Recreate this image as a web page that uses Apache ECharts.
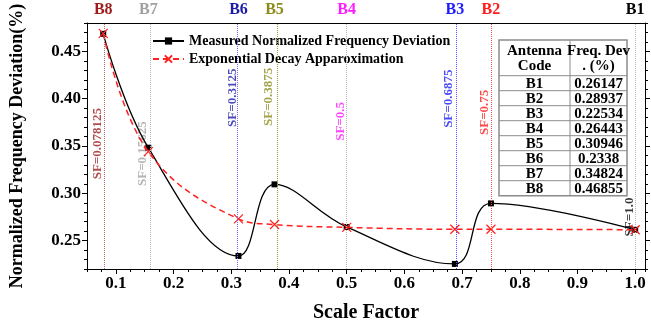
<!DOCTYPE html>
<html style="height: 100%">
<head>
<meta charset="utf-8">
<script src="https://cdn.jsdelivr.net/npm/echarts@6/dist/echarts.min.js"></script>
</head>
<body style="height: 100%; margin: 0; background: #fff">
<div id="container" style="width: 651px; height: 328px"></div>
<script type="text/javascript">
// antennas, ordered by scale factor
var codes = ['B8', 'B7', 'B6', 'B5', 'B4', 'B3', 'B2', 'B1'];
var scaleFactors = [0.078125, 0.15625, 0.3125, 0.375, 0.5, 0.6875, 0.75, 1.0];
var sfLabels = ['SF=0.078125', 'SF=0.15625', 'SF=0.3125', 'SF=0.3875', 'SF=0.5', 'SF=0.6875', 'SF=0.75', 'SF=1.0'];
var measured = [0.46855, 0.34824, 0.2338, 0.30946, 0.26443, 0.22534, 0.28937, 0.26147];
var expFit = [0.469, 0.344, 0.273, 0.267, 0.264, 0.262, 0.262, 0.2615];

// table in the corner
var tableCodes = ['B1', 'B2', 'B3', 'B4', 'B5', 'B6', 'B7', 'B8'];
var tableValues = ['0.26147', '0.28937', '0.22534', '0.26443', '0.30946', '0.2338', '0.34824', '0.46855'];

var xTicks = [0.1, 0.2, 0.3, 0.4, 0.5, 0.6, 0.7, 0.8, 0.9, 1.0];
var yTicks = [0.25, 0.30, 0.35, 0.40, 0.45];

// styling
var codeColors = ['#9c1c1c', '#a0a0a0', '#1c1ca8', '#8c8c1c', '#ff1cff', '#1c1cff', '#ff1c1c', '#000000'];
var lineColors = ['#c86464', '#b4b4b4', '#7070ff', '#a0a040', '#b4b4b4', '#5050ff', '#ff5050', '#b4b4b4'];
var labelAt = [0.3525, 0.342, 0.401, 0.402, 0.376, 0.400, 0.3856, 0.275];

var FONT = 'Liberation Serif';
var XMIN = 0.05, XMAX = 1.017, YMIN = 0.22, YMAX = 0.48;

var dom = document.getElementById('container');
var myChart = echarts.init(dom, null, { renderer: 'canvas' });

var rich = {};
codes.forEach(function (c, i) {
    rich[c] = { color: codeColors[i], fontFamily: FONT, fontWeight: 'bold', fontSize: 16 };
});

// table graphic
var TW = 128, COL = 71, HEAD = 35.7, ROW = 15;
var tbl = [
    { type: 'rect', shape: { x: 0, y: 0, width: TW, height: HEAD + ROW * 8 },
      style: { fill: '#fff', stroke: '#8c8c8c', lineWidth: 1.5 } },
    { type: 'line', shape: { x1: COL, y1: 0, x2: COL, y2: HEAD + ROW * 8 },
      style: { stroke: '#8c8c8c', lineWidth: 1 } }
];
for (var k = 0; k < 8; k++) {
    tbl.push({ type: 'line', shape: { x1: 0, y1: HEAD + ROW * k, x2: TW, y2: HEAD + ROW * k },
        style: { stroke: '#8c8c8c', lineWidth: 1 } });
}
function cell(txt, x, y) {
    return { type: 'text', x: x, y: y,
        style: { text: txt, fill: '#000', font: 'bold 15px "' + FONT + '"', align: 'center', verticalAlign: 'middle' } };
}
tbl.push(cell('Antenna', COL / 2, 11.5), cell('Code', COL / 2, 26.5));
tbl.push(cell('Freq. Dev', (COL + TW) / 2, 11.5), cell('. (%)', (COL + TW) / 2, 26.5));
tableCodes.forEach(function (c, i) {
    var y = HEAD + ROW * i + ROW / 2 + 0.5;
    tbl.push(cell(c, COL / 2, y), cell(tableValues[i], (COL + TW) / 2, y));
});

var boldText = { fontFamily: FONT, fontWeight: 'bold', color: '#000' };

var option = {
    animation: false,
    grid: { left: 84, right: 6, top: 23, bottom: 55 },
    legend: {
        orient: 'vertical',
        left: 150, top: 28,
        padding: [6, 8, 2, 2],
        itemWidth: 31, itemHeight: 9, itemGap: 4,
        backgroundColor: '#fff',
        textStyle: { fontFamily: FONT, fontWeight: 'bold', fontSize: 14, color: '#000' },
        data: ['Measured Normalized Frequency Deviation', 'Exponential Decay Apparoximation']
    },
    xAxis: [{
        type: 'value', position: 'bottom', min: XMIN, max: XMAX,
        axisLine: { lineStyle: { color: '#000', width: 1 } },
        axisTick: { customValues: xTicks, length: 5, lineStyle: { color: '#000' } },
        axisLabel: Object.assign({ customValues: xTicks, fontSize: 17, margin: 6,
            formatter: function (v) { return v.toFixed(1); } }, boldText),
        splitLine: { show: false },
        name: 'Scale Factor', nameLocation: 'middle', nameGap: 34,
        nameTextStyle: Object.assign({ fontSize: 20 }, boldText)
    }, {
        type: 'value', position: 'bottom', min: XMIN, max: XMAX, interval: 0.025,
        axisLine: { show: false },
        axisTick: { length: 3, lineStyle: { color: '#000' } },
        axisLabel: { show: false }, splitLine: { show: false }
    }, {
        type: 'value', position: 'top', min: XMIN, max: XMAX,
        axisLine: { lineStyle: { color: '#000', width: 1 } },
        axisTick: { show: false },
        axisLabel: {
            customValues: scaleFactors, margin: 5, rich: rich,
            formatter: function (v) {
                var best = 0;
                scaleFactors.forEach(function (s, i) {
                    if (Math.abs(s - v) < Math.abs(scaleFactors[best] - v)) best = i;
                });
                return '{' + codes[best] + '|' + codes[best] + '}';
            }
        },
        splitLine: { show: false }
    }],
    yAxis: [{
        type: 'value', position: 'left', min: YMIN, max: YMAX,
        axisLine: { show: true, lineStyle: { color: '#000', width: 1 } },
        axisTick: { show: true, customValues: yTicks, length: 5, lineStyle: { color: '#000' } },
        axisLabel: Object.assign({ customValues: yTicks, fontSize: 17, margin: 6,
            formatter: function (v) { return v.toFixed(2); } }, boldText),
        splitLine: { show: false },
        name: 'Normalized Frequency Deviation(%)', nameLocation: 'middle', nameGap: 61,
        nameTextStyle: Object.assign({ fontSize: 18 }, boldText)
    }, {
        type: 'value', position: 'left', min: YMIN, max: YMAX, interval: 0.01,
        axisLine: { show: false },
        axisTick: { show: true, length: 3, lineStyle: { color: '#000' } },
        axisLabel: { show: false }, splitLine: { show: false }
    }, {
        type: 'value', position: 'right', min: YMIN, max: YMAX,
        axisLine: { show: true, lineStyle: { color: '#000', width: 1 } },
        axisTick: { show: true, customValues: yTicks, length: 5, lineStyle: { color: '#000' } },
        axisLabel: { show: false }, splitLine: { show: false }
    }, {
        type: 'value', position: 'right', min: YMIN, max: YMAX, interval: 0.01,
        axisLine: { show: false },
        axisTick: { show: true, length: 3, lineStyle: { color: '#000' } },
        axisLabel: { show: false }, splitLine: { show: false }
    }],
    series: [{
        // SF marker lines and their rotated labels
        type: 'scatter', xAxisIndex: 0, yAxisIndex: 0, z: 1,
        symbolSize: 1, itemStyle: { color: 'transparent' }, silent: true,
        data: scaleFactors.map(function (sf, i) {
            return {
                value: [sf, labelAt[i]],
                label: {
                    show: true, formatter: sfLabels[i], rotate: 90,
                    position: 'inside', align: 'center', verticalAlign: 'middle',
                    offset: [0, -6],
                    color: codeColors[i], fontFamily: FONT, fontWeight: 'bold', fontSize: 13
                }
            };
        }),
        markLine: {
            silent: true, symbol: ['none', 'none'], label: { show: false },
            data: scaleFactors.map(function (sf, i) {
                return { xAxis: sf, lineStyle: { color: lineColors[i], type: 'dotted', width: 1 } };
            })
        }
    }, {
        name: 'Measured Normalized Frequency Deviation',
        type: 'line', xAxisIndex: 0, yAxisIndex: 0, z: 3,
        smooth: 0.4,
        symbol: 'rect', symbolSize: 6, showAllSymbol: true,
        lineStyle: { color: '#000', width: 1.3 },
        itemStyle: { color: '#000' },
        data: scaleFactors.map(function (sf, i) { return [sf, measured[i]]; })
    }, {
        name: 'Exponential Decay Apparoximation',
        type: 'line', xAxisIndex: 0, yAxisIndex: 0, z: 4,
        smooth: 0.4,
        symbol: 'path://M0,0L10,10M10,0L0,10', symbolSize: 9, showAllSymbol: true,
        lineStyle: { color: '#ff2020', width: 1.5, type: [6, 4] },
        itemStyle: { color: '#ff2020', borderColor: '#ff2020', borderWidth: 1.2 },
        data: scaleFactors.map(function (sf, i) { return [sf, expFit[i]]; })
    }],
    graphic: [{ type: 'group', x: 499, y: 40, z: 100, children: tbl }]
};

myChart.setOption(option);
</script>
</body>
</html>
